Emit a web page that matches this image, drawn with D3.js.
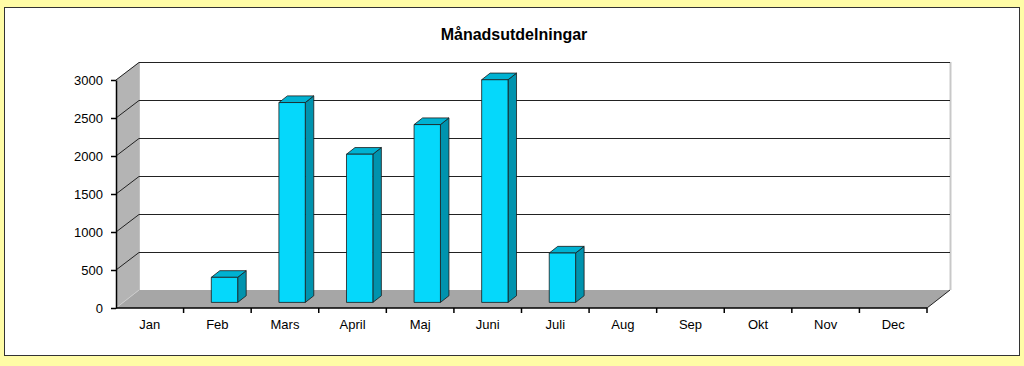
<!DOCTYPE html>
<html>
<head>
<meta charset=utf-8>
<title>Månadsutdelningar</title>
<style>
body{margin: 0; background: #fffca6;}
svg{display: block; font-family: "Liberation Sans", Arial, sans-serif;}
.tick text{font-size: 13px; fill: #000;}
</style>
</head>
<body>
<svg id=chart width=1024 height=366></svg>
<script src="https://cdn.jsdelivr.net/npm/d3@7"></script>
<script>
//data
var title = 'Månadsutdelningar';
var months = ['Jan', 'Feb', 'Mars', 'April', 'Maj', 'Juni', 'Juli', 'Aug', 'Sep', 'Okt', 'Nov', 'Dec'];
var values = [0, 330, 2630, 1950, 2340, 2930, 650, 0, 0, 0, 0, 0];
var yTicks = [0, 500, 1000, 1500, 2000, 2500, 3000];

//plot frame (front plane) and depth of the 3d box
var plotLeft = 116, plotRight = 927, plotTop = 80, plotBottom = 308;
var depth = {dx: 23, dy: -18};
var barDepth = [0.31, 0.68];  //front and back of bars as fraction of depth

var svg = d3.select('#chart');

//outer panel
svg.append('rect')
    .attr('x', 4.5).attr('y', 7.5)
    .attr('width', 1015).attr('height', 348)
    .attr('fill', '#fff')
    .attr('stroke', '#333');

svg.append('text')
    .attr('x', 514).attr('y', 40)
    .attr('text-anchor', 'middle')
    .attr('font-size', '16px')
    .attr('font-weight', 'bold')
    .text(title);

var x = d3.scaleBand().domain(months).range([plotLeft, plotRight]);
var y = d3.scaleLinear().domain([0, 3000]).range([plotBottom, plotTop]);

function off(t){ return [depth.dx * t, depth.dy * t]; }
function pts(a){ return a.map(p => p.join(',')).join(' '); }

//left wall
svg.append('polygon')
    .attr('points', pts([[plotLeft, y(0)], [plotLeft, y(3000)], [plotLeft + depth.dx, y(3000) + depth.dy], [plotLeft + depth.dx, y(0) + depth.dy]]))
    .attr('fill', '#b4b4b4');

//back wall
svg.append('rect')
    .attr('x', plotLeft + depth.dx).attr('y', y(3000) + depth.dy)
    .attr('width', plotRight - plotLeft).attr('height', y(0) - y(3000))
    .attr('fill', '#fff');
svg.append('line')
    .attr('x1', plotRight + depth.dx + 0.5).attr('x2', plotRight + depth.dx + 0.5)
    .attr('y1', y(3000) + depth.dy).attr('y2', y(0) + depth.dy)
    .attr('stroke', '#c8c8c8').attr('stroke-width', 2);

//floor
svg.append('polygon')
    .attr('points', pts([[plotLeft, y(0)], [plotLeft + depth.dx, y(0) + depth.dy], [plotRight + depth.dx, y(0) + depth.dy], [plotRight, y(0)]]))
    .attr('fill', '#a6a6a6');
svg.append('line')
    .attr('x1', plotRight).attr('y1', y(0))
    .attr('x2', plotRight + depth.dx).attr('y2', y(0) + depth.dy)
    .attr('stroke', '#222');
svg.append('line')
    .attr('x1', plotLeft).attr('y1', y(0))
    .attr('x2', plotLeft + depth.dx).attr('y2', y(0) + depth.dy)
    .attr('stroke', '#ccc');
svg.append('line')
    .attr('x1', plotLeft + depth.dx + 0.5).attr('x2', plotLeft + depth.dx + 0.5)
    .attr('y1', y(3000) + depth.dy).attr('y2', y(0) + depth.dy)
    .attr('stroke', '#999').attr('stroke-width', 0.6);

//gridlines on back wall + diagonals on left wall
var grid = svg.append('g').attr('id', 'gridlines');
grid.selectAll('line.h')
    .data(yTicks.filter(d => d > 0))
  .enter().append('line')
    .attr('class', 'h')
    .attr('x1', plotLeft + depth.dx).attr('x2', plotRight + depth.dx)
    .attr('y1', d => Math.round(y(d) + depth.dy) + 0.5)
    .attr('y2', d => Math.round(y(d) + depth.dy) + 0.5)
    .attr('stroke', '#222');
grid.selectAll('line.d')
    .data(yTicks.filter(d => d > 0))
  .enter().append('line')
    .attr('class', 'd')
    .attr('x1', plotLeft).attr('y1', d => y(d))
    .attr('x2', plotLeft + depth.dx).attr('y2', d => Math.round(y(d) + depth.dy) + 0.5)
    .attr('stroke', '#222');

//bars
var bw = x.bandwidth() * 0.39;
var f = off(barDepth[0]), b = off(barDepth[1]);
var bars = svg.append('g').attr('id', 'bars')
  .selectAll('g')
    .data(months.map((m, i) => ({m: m, v: values[i]})).filter(d => d.v > 0))
  .enter().append('g')
    .attr('stroke', '#1a1a1a')
    .attr('stroke-width', 0.8)
    .attr('stroke-linejoin', 'round');

function x0(d){ return x(d.m) + x.bandwidth() / 2 - bw / 2 + f[0]; }
function x1(d){ return x0(d) + bw; }
function yt(d){ return y(d.v) + f[1]; }
function yb(d){ return y(0) + f[1]; }
var ddx = b[0] - f[0], ddy = b[1] - f[1];

bars.append('polygon')  //side
    .attr('fill', '#0093ae')
    .attr('points', d => pts([[x1(d), yb(d)], [x1(d), yt(d)], [x1(d) + ddx, yt(d) + ddy], [x1(d) + ddx, yb(d) + ddy]]));
bars.append('polygon')  //top
    .attr('fill', '#00b2d2')
    .attr('points', d => pts([[x0(d), yt(d)], [x0(d) + ddx, yt(d) + ddy], [x1(d) + ddx, yt(d) + ddy], [x1(d), yt(d)]]));
bars.append('rect')  //front
    .attr('fill', '#05d8fb')
    .attr('x', x0).attr('y', yt)
    .attr('width', bw).attr('height', d => yb(d) - yt(d));

//axes
svg.append('g')
    .attr('id', 'axis-y')
    .attr('transform', 'translate(' + plotLeft + ',0)')
    .call(d3.axisLeft(y).tickValues(yTicks).tickFormat(d3.format('d')).tickSize(5).tickPadding(8).tickSizeOuter(0))
    .call(g => g.attr('font-family', null))
    .call(g => g.select('.domain').attr('stroke', '#000').attr('stroke-width', 1.5))
    .call(g => g.selectAll('.tick line').attr('stroke-width', 1.5));

var xa = svg.append('g')
    .attr('id', 'axis-x')
    .attr('transform', 'translate(0,' + plotBottom + ')');
xa.append('line')
    .attr('x1', plotLeft).attr('x2', plotRight)
    .attr('stroke', '#000').attr('stroke-width', 1.5);
xa.selectAll('line.t')
    .data(months.slice(1).concat(['end']))
  .enter().append('line')
    .attr('class', 't')
    .attr('x1', d => d == 'end' ? plotRight : x(d))
    .attr('x2', d => d == 'end' ? plotRight : x(d))
    .attr('y2', 5)
    .attr('stroke', '#000').attr('stroke-width', 1.5);
xa.selectAll('text')
    .data(months)
  .enter().append('text')
    .attr('x', d => x(d) + x.bandwidth() / 2)
    .attr('y', 21)
    .attr('text-anchor', 'middle')
    .attr('font-size', '13px')
    .text(d => d);
</script>
</body>
</html>
